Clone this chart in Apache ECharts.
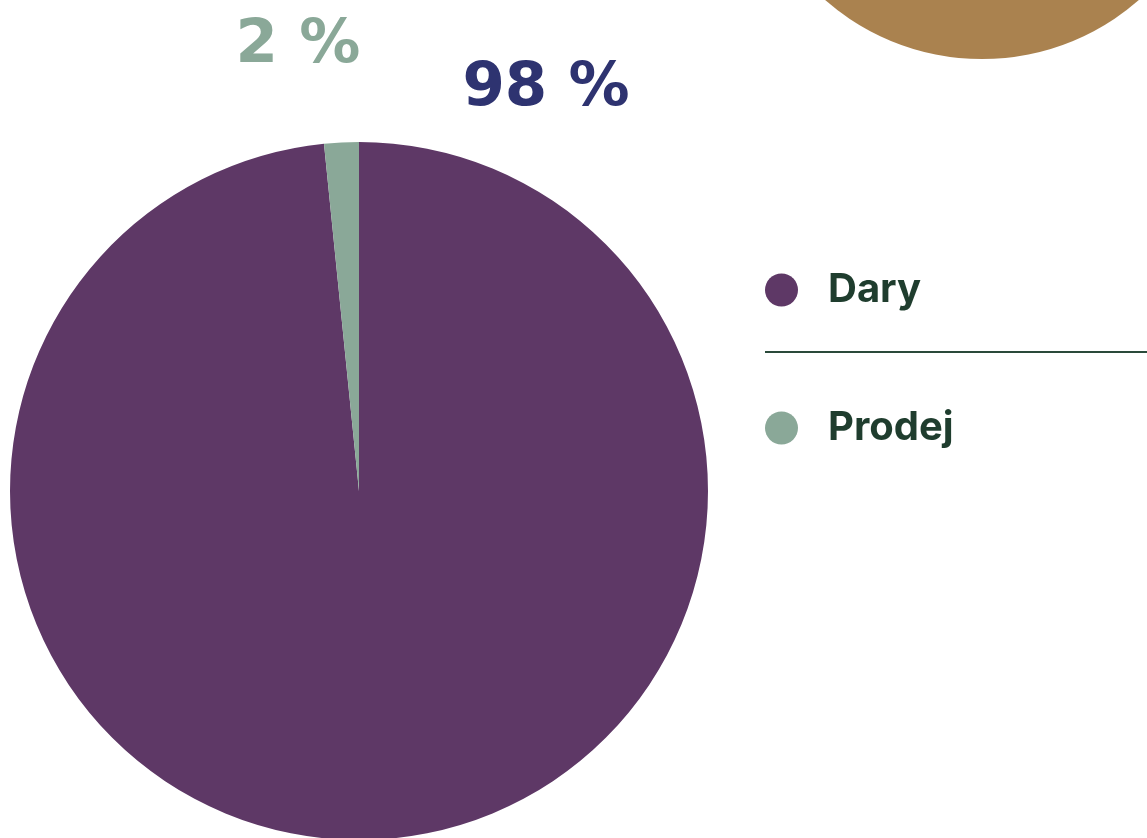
<!DOCTYPE html>
<html><head><meta charset="utf-8">
<script src="https://cdn.jsdelivr.net/npm/echarts@6/dist/echarts.min.js"></script>
<style>html,body{margin:0;padding:0;background:#fff}#c{width:1147px;height:838px}</style>
</head><body><div id="c"></div>
<script>
const categories = ["Dary", "Prodej"];
const values = [98.4, 1.6];
const sliceColors = ["#5E3866", "#8AA898"];
const labelColors = ["#2E3370", "#8AA898"];

const chart = echarts.init(document.getElementById('c'));
const labelPos = [{x: 546, y: 89}, {x: 298, y: 46}];
chart.setOption({
  animation: false,
  graphic: [
    {type: 'circle', shape: {cx: 982, cy: -179, r: 238}, style: {fill: '#AA824F'}, silent: true},
    {type: 'line', shape: {x1: 765, y1: 352, x2: 1147, y2: 352}, style: {stroke: '#2A4A3A', lineWidth: 2}}
  ],
  legend: {
    orient: 'vertical', left: 760, top: 264,
    icon: 'circle', itemWidth: 33, itemHeight: 33, itemGap: 96,
    data: categories,
    textStyle: {fontFamily: 'Inter', fontWeight: 700, fontSize: 40, color: '#1F3D2E', lineHeight: 42, padding: [0, 0, 0, 25]}
  },
  series: [{
    type: 'pie', center: [359, 491], radius: 349, startAngle: 90, clockwise: true,
    data: categories.map((n, i) => ({name: n, value: values[i], itemStyle: {color: sliceColors[i]},
      label: {color: labelColors[i]}})),
    label: {show: true, position: 'outside', fontFamily: 'DejaVu Sans', fontWeight: 'bold', fontSize: 61,
      formatter: p => Math.round(p.percent) + ' %'},
    labelLine: {show: false},
    labelLayout: p => ({x: labelPos[p.dataIndex].x, y: labelPos[p.dataIndex].y, align: 'center', verticalAlign: 'middle'}),
    emphasis: {disabled: true}
  }]
});
</script></body></html>
